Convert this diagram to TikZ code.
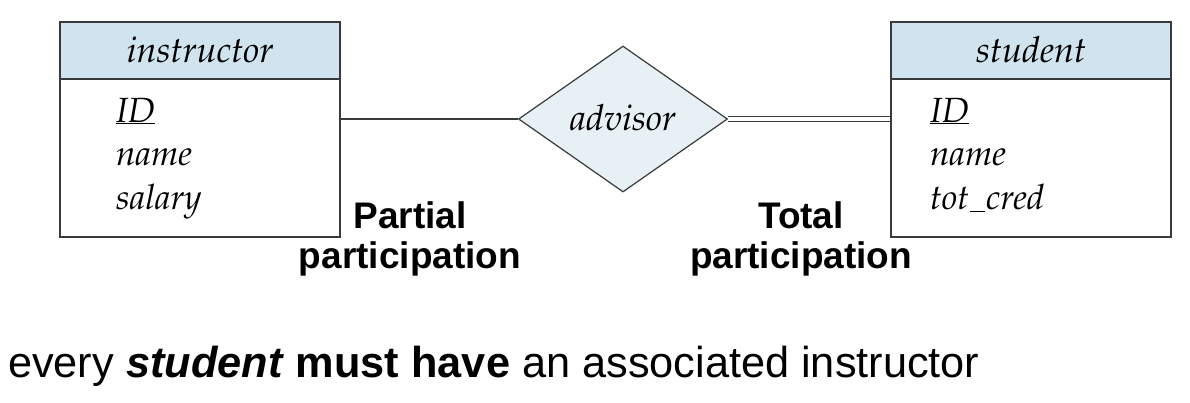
\documentclass[tikz,border=0pt]{standalone}
\usepackage{fontspec}
\setmainfont{Liberation Sans}
\usetikzlibrary{shapes.geometric}
\newcommand{\palit}{\fontencoding{OT1}\fontfamily{ppl}\fontseries{m}\fontshape{it}\selectfont}
\newcommand{\myuscore}{\kern1pt\rule[-3pt]{15pt}{1pt}\kern1pt}
\definecolor{linegray}{HTML}{3A3A3A}
\definecolor{hdrblue}{HTML}{D0E4EF}
\definecolor{relblue}{HTML}{E7F0F5}
\begin{document}
\begin{tikzpicture}[x=1pt,y=-1pt,
  frame/.style={draw=linegray, line width=1.2pt},
  hdr/.style={frame, fill=hdrblue, minimum width=280pt, minimum height=57pt, inner sep=0pt,
    text height=25pt, text depth=2pt, font=\palit\fontsize{36}{40}\selectfont},
  body/.style={frame, fill=white, minimum width=280pt, minimum height=158pt, inner sep=0pt},
  attr/.style={inner sep=0pt, align=left, font=\palit\fontsize{35}{43.5}\selectfont},
  rel/.style={diamond, frame, fill=relblue, minimum width=209pt, minimum height=146pt, inner sep=0pt,
    text height=24pt, text depth=2pt, font=\palit\fontsize{36}{40}\selectfont},
  lab/.style={inner sep=0pt, align=center, font=\bfseries\fontsize{37}{40}\selectfont},
  conn/.style={draw=linegray, line width=1.2pt}
]
\path[use as bounding box] (0,0) rectangle (1190,402);

% instructor entity
\node[body] (ibody) at (200,158) {};
\node[hdr] (ihdr) at (200,50.5) {instructor};
\node[attr, anchor=base west] (iattr) at (116,209) {\underline{ID}\\name\\salary};

% student entity
\node[body] (sbody) at (1031,158) {};
\node[hdr] (shdr) at (1031,50.5) {student};
\node[attr, anchor=base west] (sattr) at (930,209) {\underline{ID}\\name\\tot\myuscore cred};

% relationship
\node[rel] (adv) at (623,119) {advisor};

% connectors
\draw[conn] (adv.west) -- (adv.west -| ibody.east);
\draw[conn, double=white, double distance=4.5pt] (adv.east) -- (adv.east -| sbody.west);

% labels
\node[lab, anchor=base] (plab) at (410,268) {Partial\\participation};
\node[lab, anchor=base] (tlab) at (801,268) {Total\\participation};

% sentence
\node[inner sep=0pt, anchor=base west, font=\fontsize{43.3}{50}\selectfont] (note) at (8,377)
  {every \textbf{\textit{student}} \textbf{must have} an associated instructor};
\end{tikzpicture}
\end{document}
